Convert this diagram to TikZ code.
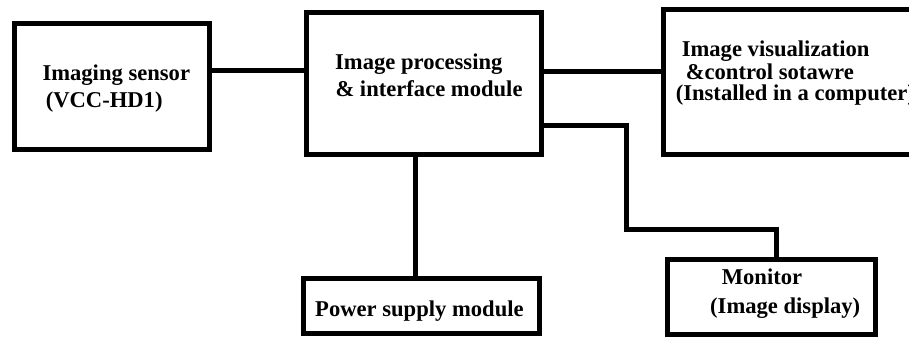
\documentclass[tikz,border=0pt]{standalone}
\usepackage{fontspec}
\setmainfont{Liberation Serif}

\begin{document}
\begin{tikzpicture}[x=1pt,y=-1pt,line width=5pt]

      \useasboundingbox (0,0) rectangle (909,337);
      \clip (0,0) rectangle (909,337);

      % blocks
      \begin{scope}[every node/.style={draw,rectangle,line width=5pt,inner sep=0pt}]
        \node[minimum width=195pt,minimum height=125.5pt]  (sensor)  at (111.5,86.75)  {};
        \node[minimum width=235pt,minimum height=142pt]    (proc)    at (423.5,83.5)   {};
        \node[minimum width=261.5pt,minimum height=144.5pt] (visual) at (794.25,82.25) {};
        \node[minimum width=236pt,minimum height=55pt]     (power)   at (421.5,305.5)  {};
        \node[minimum width=208.5pt,minimum height=74.5pt] (monitor) at (771.25,296.75) {};
      \end{scope}

      % block texts
      \begin{scope}[every node/.style={anchor=base west,inner sep=0pt,font=\fontsize{22.6}{27}\selectfont\bfseries}]
        \node (sensorA)  at (40,80.7)    {Imaging sensor};
        \node (sensorB)  at (43.3,107.3) {(VCC-HD1)};
        \node (procA)    at (332.7,70)   {Image processing};
        \node (procB)    at (333,96)     {\& interface module};
        \node (visualA)  at (679.3,56.7) {Image visualization};
        \node (visualB)  at (683.3,79.3) {\&control sotawre};
        \node (visualC)  at (673.3,100)  {(Installed in a computer)};
        \node (powerA)   at (312.7,316.7) {Power supply module};
        \node (monitorA) at (719.3,284)  {Monitor};
        \node (monitorB) at (707.7,313.3) {(Image display)};
      \end{scope}

      % links
      \draw ([yshift=16pt]sensor.east) -- ([yshift=16pt]sensor.east -| proc.west);
      \draw ([yshift=12.5pt]proc.east) -- ([yshift=12.5pt]proc.east -| visual.west);
      \draw ([xshift=-8.5pt]proc.south) -- ([xshift=-8.5pt]proc.south |- power.north);
      \draw ([yshift=-41.5pt]proc.east) -- ++(83,0) -- ++(0,104.5) -| ([xshift=4.75pt]monitor.north);

    \end{tikzpicture}
\end{document}
